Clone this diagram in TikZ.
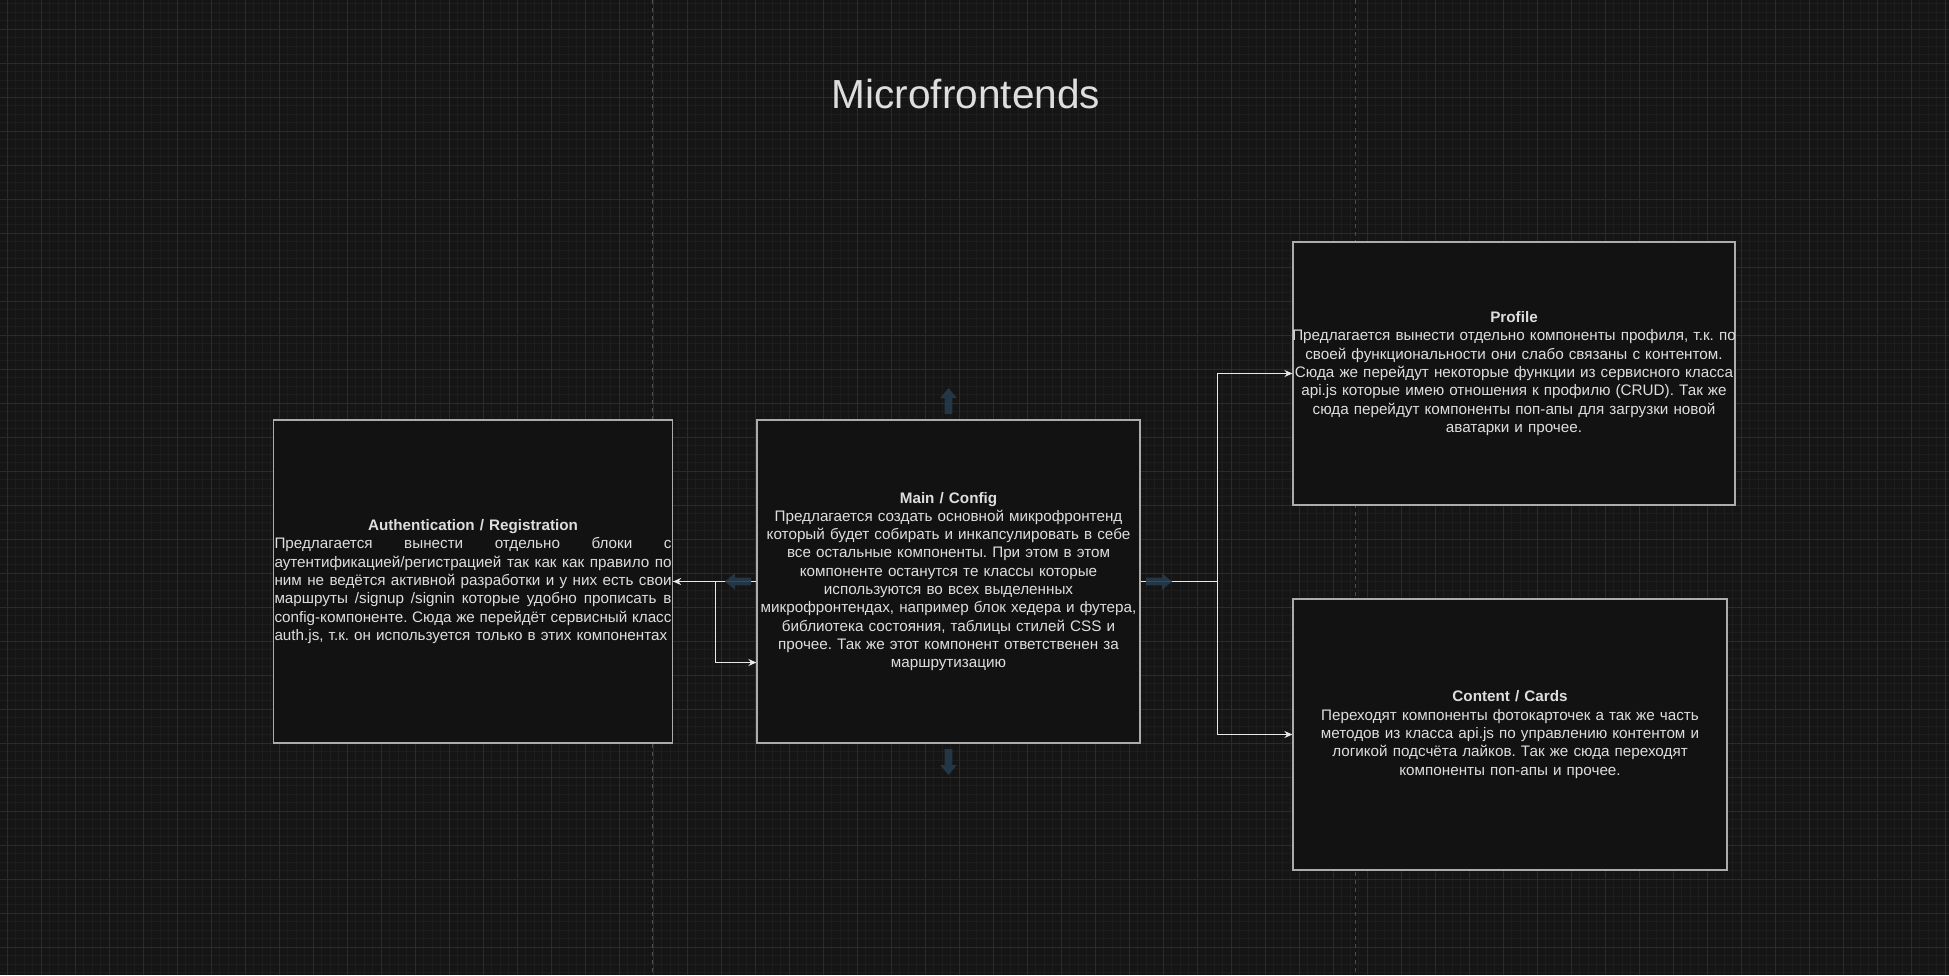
\documentclass[tikz,border=0pt]{standalone}
\usepackage{fontspec}
\setmainfont{Liberation Sans}
\usepackage{tikz}
\usetikzlibrary{arrows.meta, positioning, calc}
\definecolor{canvasbg}{RGB}{21, 21, 21}
\definecolor{gridminor}{RGB}{29, 29, 29}
\definecolor{gridmajor}{RGB}{43, 43, 43}
\definecolor{pageline}{RGB}{78, 78, 78}
\definecolor{boxfill}{RGB}{18, 18, 18}
\definecolor{boxline}{RGB}{172, 172, 172}
\definecolor{textlight}{RGB}{222, 222, 222}
\definecolor{linkwhite}{RGB}{232, 232, 232}
\definecolor{hintblue}{RGB}{36, 58, 76}
\newcommand{\fullline}[1]{\leavevmode\hbox to 397pt{#1}}
\frenchspacing

\begin{document}
\begin{tikzpicture}[
    x=1pt, y=-1pt,
    block/.style={
        rectangle,
        draw=boxline,
        fill=boxfill,
        line width=1.2pt,
        inner sep=1pt,
        align=center,
        text=textlight,
        font=\fontsize{15.24}{18.3}\selectfont
    },
    link/.style={-{Stealth[length=8pt, width=7pt]}, line width=1.2pt, color=linkwhite},
    hintarrow/.style={fill=hintblue, opacity=0.9},
    pagebreak/.style={dashed, dash pattern=on 4pt off 4pt, line width=1pt, color=pageline}
]
    % Canvas and grid
    \fill[canvasbg] (0,0) rectangle (1949,975);
    \useasboundingbox (0,0) rectangle (1949,975);
    \foreach \gx in {-1.5,7,...,1949} \draw[gridminor, line width=0.8pt] (\gx,0) -- (\gx,975);
    \foreach \gy in {3.5,12,...,975} \draw[gridminor, line width=0.8pt] (0,\gy) -- (1949,\gy);
    \foreach \gx in {7,41,...,1949} \draw[gridmajor, line width=1pt] (\gx,0) -- (\gx,975);
    \foreach \gy in {29,63,...,975} \draw[gridmajor, line width=1pt] (0,\gy) -- (1949,\gy);
    \draw[pagebreak] (652,0) -- (652,975);
    \draw[pagebreak] (1355,0) -- (1355,975);

    % Title
    \node[font=\fontsize{40.6}{48}\selectfont, text=textlight, anchor=base] (title) at (966,108) {Microfrontends};

    % Blocks
    \node[block, minimum width=399pt, minimum height=323pt, text width=397pt] (auth) at (473,581.5) {%
        \textbf{Authentication / Registration}\\
        \fullline{Предлагается\hfill вынести\hfill отдельно\hfill блоки\hfill с}\\
        \fullline{аутентификацией/регистрацией\hfill так\hfill как\hfill как\hfill правило\hfill по}\\
        \fullline{ним\hfill не\hfill ведётся\hfill активной\hfill разработки\hfill и\hfill у\hfill них\hfill есть\hfill свои}\\
        \fullline{маршруты\hfill /signup\hfill /signin\hfill которые\hfill удобно\hfill прописать\hfill в}\\
        \fullline{config-компоненте.\hfill Сюда\hfill же\hfill перейдёт\hfill сервисный\hfill класс}\\
        \fullline{auth.js, т.к. он используется только в этих компонентах\hfil}};
    \node[block, minimum width=383pt, minimum height=323pt, text width=381pt] (main) at (948.5,581.5) {%
        \textbf{Main / Config}\\
        Предлагается создать основной микрофронтенд\\
        который будет собирать и инкапсулировать в себе\\
        все остальные компоненты. При этом в этом\\
        компоненте останутся те классы которые\\
        используются во всех выделенных\\
        микрофронтендах, например блок хедера и футера,\\
        библиотека состояния, таблицы стилей CSS и\\
        прочее. Так же этот компонент ответственен за\\
        маршрутизацию};
    \node[block, minimum width=442pt, minimum height=263pt, text width=456pt, inner xsep=-7pt] (profile) at (1514,373.5) {%
        \textbf{Profile}\\
        Предлагается вынести отдельно компоненты профиля, т.к. по\\
        своей функциональности они слабо связаны с контентом.\\
        Сюда же перейдут некоторые функции из сервисного класса\\
        api.js которые имею отношения к профилю (CRUD). Так же\\
        сюда перейдут компоненты поп-апы для загрузки новой\\
        аватарки и прочее.};
    \node[block, minimum width=434pt, minimum height=271pt, text width=432pt] (content) at (1510,734.5) {%
        \textbf{Content / Cards}\\
        Переходят компоненты фотокарточек а так же часть\\
        методов из класса api.js по управлению контентом и\\
        логикой подсчёта лайков. Так же сюда переходят\\
        компоненты поп-апы и прочее.};

    % Links
    \draw[link] (main.west) -- (auth.east);
    \draw[link] (auth.east) -- ++(42,0) |- ([yshift=-81pt]main.west);
    \draw[link] (main.east) -- ++(77,0) |- (profile.west);
    \draw[link] (main.east) -- ++(77,0) |- (content.west);

    % Hover hints round the main block
    \foreach \ang/\hx/\hy in {0/948.5/401, 180/948.5/762, 90/738/581.5, -90/1159/581.5}
        \fill[hintarrow, shift={(\hx,\hy)}, rotate=\ang] (0,-13) -- (8.3,-3) -- (3.9,-3) -- (3.9,13) -- (-3.9,13) -- (-3.9,-3) -- (-8.3,-3) -- cycle;
\end{tikzpicture}
\end{document}
